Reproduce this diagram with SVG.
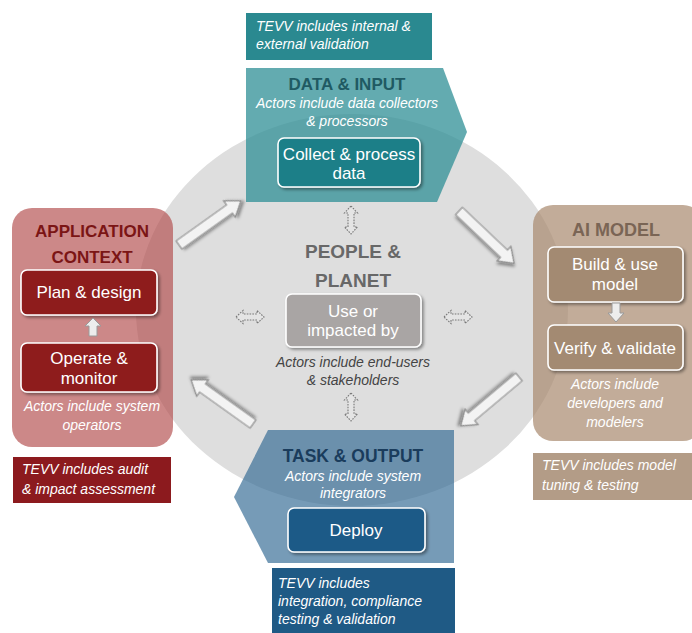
<svg xmlns="http://www.w3.org/2000/svg" width="692" height="633" viewBox="0 0 692 633">
<defs>
<filter id="sh" x="-20%" y="-20%" width="150%" height="150%">
<feDropShadow dx="2" dy="2" stdDeviation="1.5" flood-color="#000" flood-opacity="0.4"/>
</filter>
<path id="bigArrow" d="M0,-5 L62,-5 L62,-10 L76,0 L62,10 L62,5 L0,5 Z"/>
<path id="dblArrow" d="M-14,0 L-7,-6.5 L-7,-3 L7,-3 L7,-6.5 L14,0 L7,6.5 L7,3 L-7,3 L-7,6.5 Z"/>
</defs>
<style>
text{font-family:"Liberation Sans",Arial,sans-serif;}
.title{font-weight:bold;font-size:17px;text-anchor:middle;}
.inner{fill:#fff;font-size:17px;text-anchor:middle;}
.actor{fill:#fff;font-style:italic;font-size:14px;text-anchor:middle;}
.tevv{fill:#fff;font-style:italic;font-size:14px;}
.ibox{stroke:#fff;stroke-width:1.6;filter:url(#sh);}
.big{fill:#f3f3f3;stroke:#8c8c8c;stroke-width:1.2;filter:url(#sh);}
.dbl{fill:#e4e4e4;stroke:#777;stroke-width:1.1;stroke-dasharray:1.6,1.2;}
.small{fill:#ededed;stroke:#9a9a9a;stroke-width:1;}
</style>
<rect width="692" height="633" fill="#fff"/>
<ellipse id="circle" cx="352" cy="310" rx="216" ry="196" fill="#dedede"/>

<g id="data-input">
<rect x="246" y="13" width="186" height="47" fill="#2a8990"/>
<text class="tevv" x="256" y="31">TEVV includes internal &amp;</text>
<text class="tevv" x="256" y="49">external validation</text>
<polygon points="246,68 443,68 467,132 437,202 246,202" fill="#2f8f96" fill-opacity="0.75"/>
<text class="title" x="347" y="90" fill="#1f5a63">DATA &amp; INPUT</text>
<text class="actor" x="347" y="108">Actors include data collectors</text>
<text class="actor" x="347" y="126">&amp; processors</text>
<rect class="ibox" x="278" y="138" width="142" height="49" rx="6" fill="#1b7f88"/>
<text class="inner" x="349" y="160">Collect &amp; process</text>
<text class="inner" x="349" y="179">data</text>
</g>

<g id="application-context">
<rect x="12" y="208" width="161" height="239" rx="20" fill="#b04848" fill-opacity="0.65"/>
<text class="title" x="92" y="237" fill="#7b1515">APPLICATION</text>
<text class="title" x="92" y="263" fill="#7b1515">CONTEXT</text>
<rect class="ibox" x="21" y="270" width="136" height="45" rx="6" fill="#8e1b1f"/>
<text class="inner" x="89" y="298">Plan &amp; design</text>
<rect class="ibox" x="21" y="343" width="136" height="49" rx="6" fill="#8e1b1f"/>
<text class="inner" x="89" y="364">Operate &amp;</text>
<text class="inner" x="89" y="384">monitor</text>
<text class="actor" x="92" y="411">Actors include system</text>
<text class="actor" x="92" y="430">operators</text>
<rect x="13" y="457" width="158" height="46" fill="#8c1a1e"/>
<text class="tevv" x="22" y="474">TEVV includes audit</text>
<text class="tevv" x="22" y="494">&amp; impact assessment</text>
</g>

<g id="ai-model">
<rect x="533" y="205" width="170" height="236" rx="20" fill="#a8896d" fill-opacity="0.7"/>
<text class="title" x="616" y="236" fill="#7a6555" style="font-size:18px">AI MODEL</text>
<rect class="ibox" x="548" y="247" width="135" height="55" rx="6" fill="#a38a72"/>
<text class="inner" x="615" y="270">Build &amp; use</text>
<text class="inner" x="615" y="290">model</text>
<rect class="ibox" x="548" y="325" width="135" height="45" rx="6" fill="#a38a72"/>
<text class="inner" x="615" y="354">Verify &amp; validate</text>
<text class="actor" x="615" y="389">Actors include</text>
<text class="actor" x="615" y="408">developers and</text>
<text class="actor" x="615" y="427">modelers</text>
<rect x="533" y="453" width="159" height="47" fill="#b39c87"/>
<text class="tevv" x="542" y="470">TEVV includes model</text>
<text class="tevv" x="542" y="490">tuning &amp; testing</text>
</g>

<g id="task-output">
<polygon points="268,430 454,430 454,563 268,563 234,497" fill="#2c6690" fill-opacity="0.65"/>
<text class="title" x="353" y="462" fill="#1a3c5c" style="font-size:17.5px">TASK &amp; OUTPUT</text>
<text class="actor" x="353" y="481">Actors include system</text>
<text class="actor" x="353" y="498">integrators</text>
<rect class="ibox" x="288" y="508" width="137" height="44" rx="6" fill="#1f5a87"/>
<text class="inner" x="356" y="536">Deploy</text>
<rect x="272" y="568" width="183" height="65" fill="#1f5a85"/>
<text class="tevv" x="278" y="588">TEVV includes</text>
<text class="tevv" x="278" y="606">integration, compliance</text>
<text class="tevv" x="278" y="624">testing &amp; validation</text>
</g>

<g id="people-planet">
<text class="title" x="353" y="258" fill="#686868" style="font-size:19px">PEOPLE &amp;</text>
<text class="title" x="353" y="287" fill="#686868" style="font-size:19px">PLANET</text>
<rect class="ibox" x="286" y="294" width="135" height="53" rx="6" fill="#a9a5a4"/>
<text class="inner" x="353" y="317">Use or</text>
<text class="inner" x="353" y="336">impacted by</text>
<text class="actor" x="353" y="367" style="fill:#444">Actors include end-users</text>
<text class="actor" x="353" y="385" style="fill:#444">&amp; stakeholders</text>
</g>

<g id="connectors">
<use href="#bigArrow" class="big" transform="translate(179,245) rotate(-35.5)"/>
<use href="#bigArrow" class="big" transform="translate(459,211) rotate(43.5)"/>
<use href="#bigArrow" class="big" transform="translate(519,377) rotate(140)"/>
<use href="#bigArrow" class="big" transform="translate(253,424) rotate(215.5)"/>
<use href="#dblArrow" class="dbl" transform="translate(351,220) rotate(90)"/>
<use href="#dblArrow" class="dbl" transform="translate(351,407) rotate(90)"/>
<use href="#dblArrow" class="dbl" transform="translate(250,317)"/>
<use href="#dblArrow" class="dbl" transform="translate(458,317)"/>
<path class="small" d="M89,336 L89,326 L85,326 L93,318 L101,326 L97,326 L97,336 Z"/>
<path class="small" d="M612,303 L612,313 L608,313 L616,322 L624,313 L620,313 L620,303 Z"/>
</g>
</svg>
